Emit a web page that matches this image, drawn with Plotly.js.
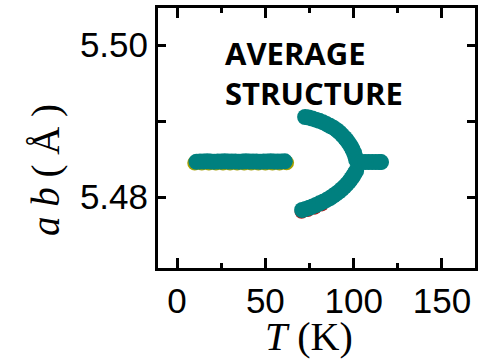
<!DOCTYPE html>
<html>
<head>
<meta charset="utf-8">
<script src="https://cdn.plot.ly/plotly-3.0.1.min.js"></script>
<style>
  html, body { margin: 0; padding: 0; background: #fff; }
  #chart { width: 491px; height: 363px; }
</style>
</head>
<body>
<div id="chart"></div>
<script>
// In-plane lattice parameter a, b (Å) against temperature T (K)

// Low-temperature single phase
const lowT   = [11, 13, 15, 17, 19, 21, 23, 25, 27, 29, 31, 33, 35, 37, 39, 41, 43, 45, 47, 49, 51, 53, 55, 57, 59, 61];
const lowAB  = [5.48464, 5.48468, 5.48466, 5.48469, 5.48467, 5.48465, 5.48468, 5.48466, 5.48469, 5.48467, 5.48466,
                5.48468, 5.48465, 5.48467, 5.48469, 5.48466, 5.48468, 5.48467, 5.48465, 5.48468, 5.48466, 5.48469,
                5.48467, 5.48466, 5.48468, 5.48470];

// Split branches (upper and lower)
const upperT  = [72.5, 74.5, 76.5, 78.5, 80.5, 82.5, 84.5, 86.5, 88.5, 90.5, 92.0, 93.5, 95.0, 96.2, 97.4, 98.5, 99.4, 100.2, 100.9, 101.4];
const upperAB = [5.49053, 5.49045, 5.49033, 5.49018, 5.49003, 5.48985, 5.48962, 5.48938, 5.48912, 5.48880,
                 5.48850, 5.48815, 5.48778, 5.48745, 5.48705, 5.48665, 5.48625, 5.48585, 5.48535, 5.48490];

const lowerT  = [70.8, 72.8, 74.8, 76.8, 78.7, 80.7, 82.7, 84.7, 86.6, 88.4, 90.0, 91.7, 93.4, 94.8, 96.2, 97.4, 98.5, 99.5, 100.4, 101.4];
const lowerAB = [5.47829, 5.47843, 5.47859, 5.47876, 5.47895, 5.47917, 5.47939, 5.47962, 5.47987, 5.48015,
                 5.48042, 5.48072, 5.48105, 5.48137, 5.48170, 5.48203, 5.48237, 5.48270, 5.48305, 5.48342];

// High-temperature single phase
const highT  = [102.5, 104.5, 106.5, 108.5, 110.5, 112.5, 114.5, 115.5];
const highAB = [5.48462, 5.48461, 5.48460, 5.48461, 5.48460, 5.48461, 5.48460, 5.48460];

// Companion measurements drawn underneath
const olivT  = [10, 14, 18, 22, 26, 30, 34, 38, 42, 46, 50, 54, 58, 62];
const olivAB = [5.48448, 5.48448, 5.48449, 5.48448, 5.48447, 5.48448, 5.48449, 5.48448, 5.48447, 5.48448, 5.48449, 5.48448, 5.48447, 5.48450];
const redT   = [70.5, 74.0, 78.0, 82.0];
const redAB  = [5.47806, 5.47828, 5.47860, 5.47903];

// Axis ticks: T every 50 K (minor 25 K); a, b every 0.02 Å (minor 0.01 Å)
const xTickStep = 50, xMinorStep = 25;
const yTickStep = 0.02, yMinorStep = 0.01;

const teal = '#00807f';
const dot = (c, s) => ({ color: c, size: s, line: { width: 0 } });

const traces = [
  { x: olivT, y: olivAB, mode: 'markers', marker: dot('#a8a000', 15), hoverinfo: 'skip' },
  { x: redT,  y: redAB,  mode: 'markers', marker: dot('#b01818', 14), hoverinfo: 'skip' },
  { x: lowT,   y: lowAB,   mode: 'markers', marker: dot(teal, 16) },
  { x: upperT, y: upperAB, mode: 'markers', marker: dot(teal, 16) },
  { x: lowerT, y: lowerAB, mode: 'markers', marker: dot(teal, 16) },
  { x: highT,  y: highAB,  mode: 'markers', marker: dot(teal, 16) }
];

const tickFont = { family: 'Liberation Sans, Arial, sans-serif', size: 35, color: '#000' };

const layout = {
  width: 491, height: 363,
  margin: { l: 158, r: 16, t: 8, b: 95 },
  showlegend: false,
  xaxis: {
    range: [-10.8, 168.7],
    dtick: xTickStep,
    ticks: 'inside', ticklen: 10, tickwidth: 3, tickcolor: '#000',
    minor: { dtick: xMinorStep, ticks: 'inside', ticklen: 5, tickwidth: 3, tickcolor: '#000' },
    showline: true, linewidth: 3, linecolor: '#000', mirror: 'ticks',
    showgrid: false, zeroline: false,
    tickfont: tickFont
  },
  yaxis: {
    range: [5.47066, 5.50487],
    dtick: yTickStep, tickformat: '.2f',
    ticks: 'inside', ticklen: 8, tickwidth: 3, tickcolor: '#000',
    minor: { dtick: yMinorStep, ticks: 'inside', ticklen: 8, tickwidth: 3, tickcolor: '#000' },
    showline: true, linewidth: 3, linecolor: '#000', mirror: 'ticks',
    showgrid: false, zeroline: false,
    tickfont: tickFont
  },
  annotations: [
    { text: 'AVERAGE', xref: 'paper', yref: 'paper', x: 0.205, y: 0.826, xanchor: 'left', yanchor: 'middle',
      showarrow: false, font: { family: 'Open Sans, sans-serif', size: 31, color: '#000', weight: 'bold' } },
    { text: 'STRUCTURE', xref: 'paper', yref: 'paper', x: 0.205, y: 0.672, xanchor: 'left', yanchor: 'middle',
      showarrow: false, font: { family: 'Open Sans, sans-serif', size: 31, color: '#000', weight: 'bold' } },
    { text: '<i>T</i> (K)', xref: 'paper', yref: 'paper', x: 0.476, y: -0.262, xanchor: 'center', yanchor: 'middle',
      showarrow: false, font: { family: 'Liberation Serif, Times New Roman, serif', size: 40, color: '#000' } },
    { text: '<i>a b</i> ( Å )', xref: 'paper', yref: 'paper', x: -0.353, y: 0.377, xanchor: 'center', yanchor: 'middle',
      textangle: -90, showarrow: false, font: { family: 'Liberation Serif, Times New Roman, serif', size: 39, color: '#000' } }
  ]
};

Plotly.newPlot('chart', traces, layout, { displayModeBar: false });
</script>
</body>
</html>
